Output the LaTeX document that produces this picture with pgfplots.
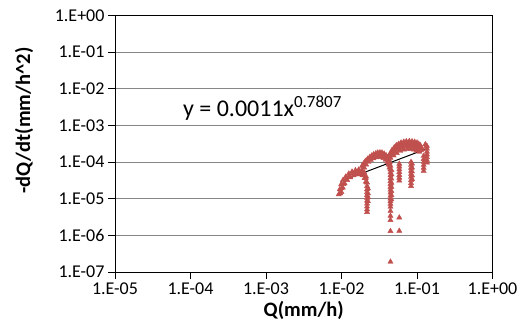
\documentclass[border=0pt]{standalone}
\usepackage{pgfplots}
\pgfplotsset{compat=1.18}
\usepackage{fontspec}
\setmainfont{Carlito}
\definecolor{exred}{HTML}{C0504D}
\definecolor{gridgray}{HTML}{868686}
\begin{document}
\begin{tikzpicture}
\begin{axis}[name=ax, at={(0pt,0pt)}, anchor=south west,
  scale only axis, width=377.5pt, height=256.7pt,
  xmode=log, ymode=log, xmin=1e-5, xmax=1, ymin=1e-7, ymax=1,
  xtick={1e-5,1e-4,1e-3,1e-2,1e-1,1},
  xticklabels={1.E-05,1.E-04,1.E-03,1.E-02,1.E-01,1.E+00},
  ytick={1e-7,1e-6,1e-5,1e-4,1e-3,1e-2,1e-1,1},
  yticklabels={1.E-07,1.E-06,1.E-05,1.E-04,1.E-03,1.E-02,1.E-01,1.E+00},
  xminorticks=false, yminorticks=false,
  ymajorgrids, major grid style={gridgray, line width=0.9pt},
  axis line style={black, line width=0.9pt},
  tick style={black, line width=0.9pt},
  tick align=outside, major tick length=7pt,
  xtick pos=bottom, ytick pos=left,
  tick label style={font=\fontsize{18}{18}\selectfont},
  xlabel={\textbf{Q(mm/h)}},
  ylabel={\textbf{-dQ/dt(mm/h\textasciicircum 2)}},
  xlabel style={font=\fontsize{20.5}{20.5}\selectfont},
  ylabel style={font=\fontsize{20.5}{20.5}\selectfont, at={(axis description cs:-0.241,0.59)}, anchor=center},
  clip=false,
]
\addplot[only marks, mark=triangle*, mark size=3pt, color=exred, mark options={fill=exred, draw=exred}] coordinates {
(0.0092,1.31e-5) (0.0095,1.8e-5) (0.0099,2.46e-5) (0.0105,3.23e-5) (0.0114,3.98e-5) (0.0125,4.81e-5) (0.0138,5.44e-5) (0.0153,5.93e-5) (0.0169,6.18e-5) (0.0187,5.93e-5) (0.0201,5.12e-5) (0.0212,3.98e-5) (0.0218,2.73e-5)
(0.0096,1.4e-5) (0.0100,1.9e-5) (0.0106,2.5e-5) (0.0115,3.4e-5) (0.0127,4.2e-5) (0.0141,4.85e-5) (0.0156,5.2e-5) (0.0172,5.3e-5) (0.0188,5.0e-5) (0.0200,4.4e-5) (0.0209,3.6e-5) (0.0215,2.8e-5)
(0.0100,1.5e-5) (0.0104,2.0e-5) (0.0110,2.6e-5) (0.0119,3.2e-5) (0.0131,3.8e-5) (0.0145,4.3e-5) (0.0160,4.6e-5) (0.0175,4.6e-5) (0.0190,4.3e-5) (0.0202,3.6e-5) (0.0210,2.9e-5)
(0.0218,2.2e-5) (0.0218,1.8e-5) (0.0218,1.5e-5) (0.0218,1.25e-5) (0.0218,1.05e-5) (0.0218,8.8e-6) (0.0218,7.3e-6) (0.0218,6.1e-6) (0.0218,5.1e-6) (0.0218,4.3e-6)
(0.0224,1.9e-5) (0.0224,1.4e-5) (0.0224,1.1e-5) (0.0224,8.5e-6)
(0.0187,7.78e-5) (0.0196,9.0e-5) (0.0207,1.06e-4) (0.0222,1.22e-4) (0.0237,1.37e-4) (0.0252,1.5e-4) (0.0267,1.62e-4) (0.0285,1.72e-4) (0.0302,1.8e-4) (0.0323,1.82e-4) (0.0344,1.8e-4) (0.0367,1.68e-4) (0.0389,1.52e-4) (0.0408,1.35e-4) (0.0423,1.18e-4) (0.0435,9.8e-5) (0.0445,7.78e-5)
(0.0193,7.4e-5) (0.0203,8.8e-5) (0.0217,1.05e-4) (0.0232,1.2e-4) (0.0250,1.33e-4) (0.0270,1.45e-4) (0.0292,1.53e-4) (0.0316,1.58e-4) (0.0340,1.56e-4) (0.0365,1.48e-4) (0.0390,1.33e-4) (0.0410,1.17e-4) (0.0425,1.0e-4) (0.0438,8.3e-5)
(0.0200,7.0e-5) (0.0212,8.5e-5) (0.0228,1.0e-4) (0.0245,1.13e-4) (0.0265,1.25e-4) (0.0287,1.33e-4) (0.0310,1.37e-4) (0.0335,1.35e-4) (0.0360,1.28e-4) (0.0385,1.15e-4) (0.0405,1.0e-4) (0.0420,8.5e-5) (0.0432,7.0e-5)
(0.0445,6.3e-5) (0.0445,5.2e-5) (0.0445,4.3e-5) (0.0445,3.6e-5) (0.0445,3.0e-5) (0.0445,2.5e-5) (0.0445,2.1e-5) (0.0445,1.75e-5) (0.0445,1.45e-5) (0.0445,1.2e-5) (0.0445,1.0e-5) (0.0445,8.5e-6) (0.0445,7.2e-6)
(0.0458,6.0e-5) (0.0458,4.6e-5) (0.0458,3.5e-5) (0.0458,2.7e-5) (0.0458,2.1e-5) (0.0458,1.6e-5) (0.0458,1.25e-5) (0.0458,9.5e-6)
(0.0445,6.0e-6) (0.0445,4.6e-6) (0.0445,3.4e-6) (0.0445,2.6e-6) (0.0445,1.3e-6) (0.0445,1.9e-7)
(0.0583,8.9e-5) (0.0583,7.5e-5) (0.0583,6.3e-5) (0.0583,5.3e-5) (0.0583,4.4e-5) (0.0583,3.7e-5) (0.0583,3.1e-5) (0.0583,3.05e-6) (0.0583,1.32e-6)
(0.0423,1.46e-4) (0.0445,1.78e-4) (0.0468,2.12e-4) (0.0500,2.5e-4) (0.0533,2.85e-4) (0.0572,3.12e-4) (0.0615,3.37e-4) (0.0668,3.55e-4) (0.0723,3.66e-4) (0.0790,3.7e-4) (0.0859,3.66e-4) (0.0930,3.55e-4) (0.100,3.37e-4) (0.1055,3.12e-4) (0.1107,2.85e-4) (0.1140,2.5e-4) (0.1164,2.21e-4)
(0.0433,1.4e-4) (0.0458,1.7e-4) (0.0490,2.05e-4) (0.0525,2.35e-4) (0.0565,2.65e-4) (0.0610,2.9e-4) (0.0665,3.05e-4) (0.0725,3.15e-4) (0.0790,3.2e-4) (0.0858,3.15e-4) (0.0930,3.05e-4) (0.0995,2.88e-4) (0.1050,2.62e-4) (0.1095,2.35e-4) (0.1125,2.1e-4)
(0.0445,1.3e-4) (0.0475,1.6e-4) (0.0510,1.9e-4) (0.0550,2.17e-4) (0.0600,2.42e-4) (0.0655,2.6e-4) (0.0720,2.72e-4) (0.0790,2.76e-4) (0.0860,2.72e-4) (0.0930,2.6e-4) (0.0990,2.4e-4) (0.1040,2.15e-4) (0.1080,1.9e-4)
(0.0490,1.5e-4) (0.0540,1.75e-4) (0.0600,2.0e-4) (0.0670,2.18e-4) (0.0750,2.28e-4) (0.0830,2.28e-4) (0.0910,2.18e-4) (0.0980,2.0e-4)
(0.0834,1.0e-4) (0.0834,8.3e-5) (0.0834,6.9e-5) (0.0834,5.7e-5) (0.0834,4.7e-5) (0.0834,3.9e-5) (0.0834,3.2e-5) (0.0834,2.65e-5) (0.0834,2.2e-5)
(0.0860,9.0e-5) (0.0860,7.0e-5) (0.0860,5.5e-5) (0.0860,4.3e-5) (0.0860,3.4e-5)
(0.1225,1.46e-4) (0.1225,1.2e-4) (0.1225,1.0e-4) (0.1225,8.3e-5) (0.1225,6.9e-5) (0.1225,5.7e-5)
(0.1355,2.73e-4) (0.1355,2.3e-4) (0.1355,1.9e-4) (0.1355,1.6e-4) (0.1355,1.35e-4) (0.1355,1.13e-4) (0.1355,9.6e-5)
(0.129,3.03e-4) (0.132,2.6e-4)
};
\addplot[black, line width=1pt, no marks] coordinates {(0.0097,2.95e-5) (0.14,2.37e-4)};
\node[anchor=base west, inner sep=0pt] at (rel axis cs:0.18,0.604)
  {\fontsize{24}{24}\selectfont y = 0.0011x\raisebox{9pt}{\fontsize{17}{17}\selectfont 0.7807}};
\end{axis}
\pgfresetboundingbox
\path[use as bounding box] ([shift={(-115pt,-63pt)}]ax.south west) rectangle ([shift={(29.5pt,15.3pt)}]ax.north east);
\end{tikzpicture}
\end{document}
